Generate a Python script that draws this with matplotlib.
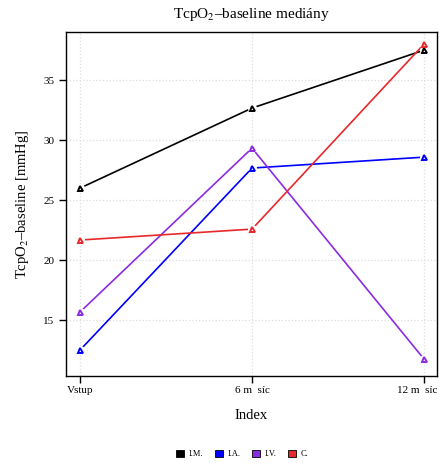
import matplotlib.pyplot as plt
import matplotlib.transforms as mtransforms
from matplotlib.patches import Patch

plt.rcParams['font.family'] = ['Liberation Serif', 'DejaVu Serif']
plt.rcParams['mathtext.fontset'] = 'stix'

# median TcpO2 baseline per group and time point
timepoints = ['Vstup', '6 m  síc', '12 m  síc']
groups = ['I.M.', 'I.A.', 'I.V.', 'C.']
colors = ['black', 'blue', '#8A2BE2', '#E8282B']
im_vals = [26.0, 32.67, 37.5]
ia_vals = [12.5, 27.67, 28.58]
iv_vals = [15.67, 29.33, 11.75]
c_vals = [21.67, 22.58, 38.0]
series = [im_vals, ia_vals, iv_vals, c_vals]

fig = plt.figure(figsize=(4.41, 4.66), dpi=100)
ax = fig.add_axes([0.150, 0.193, 0.841, 0.738])

x = list(range(len(timepoints)))
for vals, col in zip(series, colors):
    ax.plot(x, vals, color=col, linewidth=1.2, zorder=3)
for vals, col in zip(series, colors):
    # white blob to mimic R type="b" gap around points
    ax.plot(x, vals, linestyle='none', marker='o', markersize=6.5,
            markerfacecolor='white', markeredgecolor='none', zorder=4)
for vals, col in zip(series, colors):
    ax.plot(x, vals, linestyle='none', marker='^', markersize=3.6,
            markerfacecolor='none', markeredgecolor=col, markeredgewidth=1.4, zorder=5)

ax.set_xlim(-0.081, 2.076)
ax.set_ylim(10.33, 39.0)
ax.set_xticks(x)
ax.set_xticklabels(timepoints, fontsize=8)
ax.set_yticks([15, 20, 25, 30, 35])
ax.tick_params(axis='both', direction='out', length=5, width=1, labelsize=8)
ax.tick_params(axis='x', pad=2)
ax.grid(color='#DDDDDD', linestyle=':', linewidth=0.9, zorder=0)
for s in ax.spines.values():
    s.set_linewidth(1)

# nudge the last tick label so it stays inside the figure
last = ax.get_xticklabels()[-1]
last.set_transform(last.get_transform() +
                   mtransforms.ScaledTranslation(-5 / 72, 0, fig.dpi_scale_trans))

ax.set_title('TcpO$_2$–baseline mediány', fontsize=11, pad=10)
ax.set_xlabel('Index', fontsize=10.5, labelpad=10)
ax.set_ylabel('TcpO$_2$–baseline [mmHg]', fontsize=10.5, labelpad=9)

handles = [Patch(facecolor=c, edgecolor='black', linewidth=0.6, label=g)
           for g, c in zip(groups, colors)]
fig.legend(handles=handles, loc='center', bbox_to_anchor=(0.55, 0.026), ncol=4,
           frameon=False, fontsize=6, handlelength=0.9, handleheight=0.9,
           handletextpad=0.6, columnspacing=1.4)

fig.savefig('out.png', dpi=100)
